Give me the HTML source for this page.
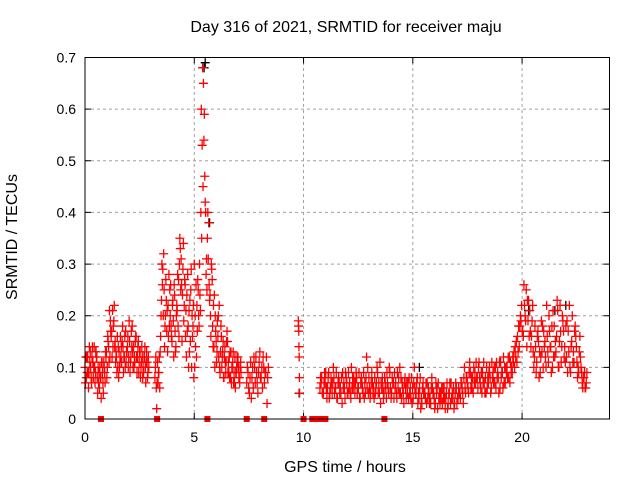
<!DOCTYPE html>
<html><head><meta charset="utf-8"><style>
html,body{margin:0;padding:0;background:#fff;}
svg{display:block;font-family:"Liberation Sans",sans-serif;}
</style></head><body>
<svg id="chart" width="640" height="480" viewBox="0 0 640 480">
<text x="346" y="32" font-size="16" text-anchor="middle">Day 316 of 2021, SRMTID for receiver maju</text>
<text x="345" y="472" font-size="16" text-anchor="middle">GPS time / hours</text>
<text transform="translate(17,237) rotate(-90)" font-size="16" text-anchor="middle">SRMTID / TECUs</text>
<g id="grid"></g>
<g id="ticks"></g>
<g id="marks"></g>
<rect x="85" y="57.5" width="524.5" height="361.5" fill="none" stroke="#000" stroke-width="1"/>
</svg>
<script>
const xTicks=[0,5,10,15,20];
const yTicks=[0,0.1,0.2,0.3,0.4,0.5,0.6,0.7];
const yTickLabels=["0","0.1","0.2","0.3","0.4","0.5","0.6","0.7"];
const seg1Start=0.0, seg1Step=0.06;
const seg1A=[0.10,0.08,0.12,0.09,0.13,0.07,0.11,0.14,0.09,0.12,0.10,0.06,0.08,0.11,0.05,0.09,0.12,0.10,0.14,0.12,0.16,0.21,0.19,0.15,0.12,0.10,0.13,0.16,0.11,0.14,0.12,0.17,0.13,0.10,0.15,0.12,0.18,0.14,0.11,0.16,0.12,0.09,0.13,0.11,0.08,0.12,0.10,0.13,0.09];
const seg1B=[0.07,0.12,0.09,0.14,0.10,0.12,0.08,0.10,0.13,0.08,0.07,0.10,0.04,0.09,0.11,0.07,0.13,0.16,0.11,0.19,0.17,0.14,0.22,0.11,0.09,0.14,0.10,0.12,0.15,0.09,0.16,0.11,0.14,0.12,0.09,0.17,0.13,0.10,0.15,0.12,0.14,0.11,0.08,0.14,0.10,0.12,0.07,0.11,0.12];
const seg1C=[0.12,0.09,0.06,0.11,0.08,0.14,0.10,0.07,0.12,0.05,0.09,0.08,0.11,0.07,0.10,0.13,0.08,0.15,0.21,0.17,0.12,0.18,0.14,0.13,0.16,0.08,0.11,0.14,0.18,0.12,0.10,0.13,0.16,0.19,0.11,0.14,0.10,0.12,0.16,0.09,0.15,0.13,0.10,0.12,0.09,0.14,0.11,0.08,0.10];
const seg2Start=3.2, seg2Step=0.06;
const seg2A=[0.08,0.06,0.11,0.09,0.13,0.23,0.29,0.25,0.20,0.17,0.22,0.18,0.26,0.15,0.19,0.24,0.14,0.21,0.27,0.35,0.31,0.24,0.19,0.26,0.12,0.28,0.21,0.15,0.10,0.18,0.30,0.14,0.22,0.25,0.30,0.40,0.53,0.65,0.47,0.28,0.35,0.38,0.24,0.30,0.18,0.14,0.20,0.11,0.16,0.22,0.13,0.10,0.15,0.12,0.09,0.17,0.11,0.08,0.13,0.10,0.07,0.12,0.09,0.11,0.08,0.10];
const seg2B=[0.10,0.02,0.07,0.12,0.16,0.30,0.20,0.14,0.27,0.21,0.16,0.25,0.18,0.22,0.12,0.17,0.20,0.28,0.16,0.33,0.26,0.29,0.22,0.16,0.24,0.18,0.13,0.25,0.20,0.22,0.10,0.26,0.17,0.20,0.24,0.60,0.68,0.54,0.42,0.31,0.40,0.26,0.20,0.29,0.14,0.24,0.17,0.13,0.20,0.10,0.18,0.12,0.08,0.14,0.11,0.15,0.09,0.13,0.07,0.11,0.09,0.06,0.10,0.12,0.08,0.11];
const seg2C=[0.12,0.07,0.09,0.06,0.20,0.26,0.32,0.18,0.23,0.13,0.28,0.20,0.16,0.23,0.26,0.13,0.22,0.18,0.30,0.25,0.15,0.34,0.27,0.21,0.17,0.10,0.23,0.29,0.16,0.08,0.20,0.12,0.27,0.18,0.21,0.35,0.45,0.59,0.40,0.25,0.31,0.23,0.16,0.27,0.22,0.10,0.15,0.19,0.12,0.09,0.16,0.13,0.08,0.11,0.15,0.09,0.12,0.08,0.10,0.13,0.07,0.09,0.12,0.10,0.07,0.09];
const seg3Start=7.4, seg3Step=0.06;
const seg3A=[0.07,0.09,0.05,0.11,0.08,0.06,0.10,0.12,0.07,0.09,0.13,0.08,0.06,0.10,0.09,0.12,0.08];
const seg3B=[0.10,0.06,0.08,0.04,0.10,0.12,0.07,0.09,0.05,0.11,0.08,0.10,0.12,0.07,0.09,0.03,0.10];
const seg4Times=[9.76,9.77,9.78,9.79,9.80,9.81,9.82];
const seg4Vals=[0.19,0.18,0.17,0.14,0.12,0.08,0.05];
const seg5Start=10.75, seg5Step=0.08;
const seg5A=[0.06,0.08,0.05,0.07,0.04,0.09,0.06,0.05,0.08,0.06,0.04,0.07,0.05,0.09,0.06,0.08,0.05,0.07,0.10,0.06,0.05,0.08,0.06,0.04,0.07,0.09,0.05,0.06,0.08,0.05,0.07,0.04,0.06,0.09,0.05,0.07,0.06,0.08,0.04,0.06,0.09,0.05,0.07,0.06,0.04,0.08,0.05,0.07,0.03,0.06,0.05,0.08,0.04,0.06,0.10,0.05,0.03,0.06,0.04,0.07,0.05,0.03,0.06,0.04,0.08,0.05,0.03,0.06,0.04,0.05,0.03,0.06,0.04,0.02,0.05,0.07,0.04,0.03,0.06,0.04,0.05,0.07,0.03,0.06,0.08,0.05,0.09,0.06,0.10,0.07,0.08,0.11,0.06,0.09,0.07,0.05,0.08,0.10,0.06,0.09,0.07,0.11,0.08,0.06,0.09,0.12,0.07,0.10,0.08,0.11,0.09,0.13,0.12,0.16,0.14,0.19,0.17,0.22,0.25,0.19,0.21,0.16,0.13,0.18,0.11,0.15,0.09,0.13,0.17,0.12,0.16,0.20,0.14,0.10,0.18,0.13,0.21,0.15,0.11,0.19,0.14,0.12,0.17,0.10,0.15,0.13,0.18,0.11,0.09,0.12,0.07,0.08,0.06];
const seg5B=[0.08,0.05,0.07,0.09,0.06,0.04,0.08,0.07,0.05,0.09,0.07,0.05,0.08,0.06,0.04,0.07,0.09,0.05,0.06,0.08,0.07,0.05,0.09,0.07,0.06,0.04,0.08,0.10,0.06,0.07,0.05,0.08,0.07,0.05,0.11,0.06,0.04,0.07,0.09,0.05,0.06,0.08,0.04,0.07,0.09,0.05,0.08,0.06,0.07,0.04,0.07,0.05,0.08,0.04,0.06,0.07,0.05,0.08,0.03,0.05,0.04,0.07,0.05,0.03,0.06,0.04,0.07,0.02,0.05,0.04,0.06,0.04,0.05,0.03,0.07,0.04,0.06,0.05,0.03,0.06,0.04,0.06,0.08,0.05,0.07,0.09,0.06,0.08,0.07,0.11,0.06,0.08,0.09,0.07,0.05,0.10,0.07,0.08,0.11,0.07,0.10,0.08,0.05,0.11,0.09,0.07,0.10,0.08,0.12,0.09,0.12,0.10,0.15,0.13,0.18,0.22,0.16,0.20,0.14,0.23,0.17,0.19,0.10,0.14,0.16,0.08,0.12,0.18,0.14,0.10,0.13,0.17,0.09,0.21,0.12,0.16,0.10,0.22,0.14,0.17,0.11,0.19,0.13,0.09,0.20,0.11,0.16,0.08,0.13,0.10,0.06,0.09,0.07];
const seg5C=[0.07,0.05,0.09,0.06,0.08,0.05,0.07,0.10,0.06,0.04,0.08,0.06,0.03,0.07,0.09,0.05,0.06,0.04,0.08,0.07,0.09,0.06,0.04,0.08,0.05,0.07,0.12,0.05,0.04,0.09,0.06,0.05,0.10,0.07,0.03,0.08,0.05,0.06,0.07,0.10,0.04,0.07,0.09,0.05,0.06,0.10,0.04,0.05,0.08,0.07,0.04,0.06,0.03,0.07,0.05,0.08,0.04,0.02,0.06,0.05,0.07,0.04,0.03,0.06,0.05,0.02,0.05,0.07,0.03,0.06,0.04,0.02,0.07,0.05,0.03,0.05,0.02,0.07,0.04,0.05,0.07,0.05,0.10,0.08,0.06,0.11,0.08,0.05,0.09,0.08,0.10,0.07,0.05,0.11,0.08,0.06,0.09,0.05,0.08,0.10,0.06,0.09,0.11,0.08,0.06,0.10,0.09,0.12,0.07,0.10,0.11,0.14,0.11,0.18,0.20,0.17,0.26,0.19,0.23,0.16,0.14,0.22,0.12,0.09,0.17,0.13,0.19,0.10,0.15,0.22,0.11,0.14,0.18,0.12,0.15,0.23,0.10,0.17,0.20,0.12,0.18,0.09,0.22,0.14,0.11,0.17,0.14,0.10,0.16,0.09,0.08,0.06,0.09];
const zeroTimes=[0.73,3.3,5.6,7.4,8.2,10.0,10.4,10.6,10.8,11.0,13.7];
const blackTimes=[0.1,0.5,5.45,5.5,5.7,9.8,15.3,20.3,21.5,22.0];
const blackVals=[0.12,0.13,0.68,0.69,0.38,0.05,0.10,0.21,0.21,0.22];

const X0=85,X1=609.5,Y0=419,Y1=57.5,XMAX=24,YMAX=0.7;
function xs(t){return X0+(X1-X0)*t/XMAX;}
function ys(v){return Y0-(Y0-Y1)*v/YMAX;}
const NS="http://www.w3.org/2000/svg";
const grid=document.getElementById('grid'),ticks=document.getElementById('ticks'),marks=document.getElementById('marks');
function mk(tag,attrs,parent){const e=document.createElementNS(NS,tag);for(const k in attrs)e.setAttribute(k,attrs[k]);parent.appendChild(e);return e;}
xTicks.forEach(t=>{
  const x=xs(t);
  if(t>0){const g=mk('line',{x1:x,y1:Y0,x2:x,y2:Y1,stroke:'#a0a0a0','stroke-dasharray':'3,3'},grid);
  
  }
  const tk=mk('path',{d:`M${x},${Y0}v-6M${x},${Y1}v6`,stroke:'#000'},ticks);
  
  
  const l=mk('text',{x:x,y:Y0+23,'font-size':14,'text-anchor':'middle'},ticks);l.textContent=String(t);
  
  
});
yTicks.forEach((v,i)=>{
  const y=ys(v);
  if(v>0&&v<0.7){const g=mk('line',{x1:X0,y1:y,x2:X1,y2:y,stroke:'#a0a0a0','stroke-dasharray':'3,3'},grid);
  
  }
  const tk=mk('path',{d:`M${X0},${y}h6M${X1},${y}h-6`,stroke:'#000'},ticks);
  
  
  const l=mk('text',{x:X0-9,y:y+5,'font-size':14,'text-anchor':'end'},ticks);l.textContent=yTickLabels[i];
  
  
});
function plus(t,v,color){
  const x=xs(t),y=ys(v);
  const p=mk('path',{d:`M${x-4.5},${y}h9M${x},${y-4.5}v9`,stroke:color,'stroke-width':1.3,fill:'none'},marks);
  
  
}
blackTimes.forEach((t,i)=>plus(t,blackVals[i],'#000'));
function seg(start,step,arr,dt){arr.forEach((v,i)=>plus(start+i*step+dt,v,'#f00'));}
seg(seg1Start,seg1Step,seg1A,0);seg(seg1Start,seg1Step,seg1B,0.02);seg(seg1Start,seg1Step,seg1C,0.04);
seg(seg2Start,seg2Step,seg2A,0);seg(seg2Start,seg2Step,seg2B,0.02);seg(seg2Start,seg2Step,seg2C,0.04);
seg(seg3Start,seg3Step,seg3A,0);seg(seg3Start,seg3Step,seg3B,0.03);
seg4Times.forEach((t,i)=>plus(t,seg4Vals[i],'#f00'));
seg(seg5Start,seg5Step,seg5A,0);seg(seg5Start,seg5Step,seg5B,0.027);seg(seg5Start,seg5Step,seg5C,0.054);
zeroTimes.forEach(t=>{
  const r=mk('rect',{x:xs(t)-3,y:Y0-3,width:6,height:6,fill:'#f00'},marks);
  
  
});
</script>
</body></html>
